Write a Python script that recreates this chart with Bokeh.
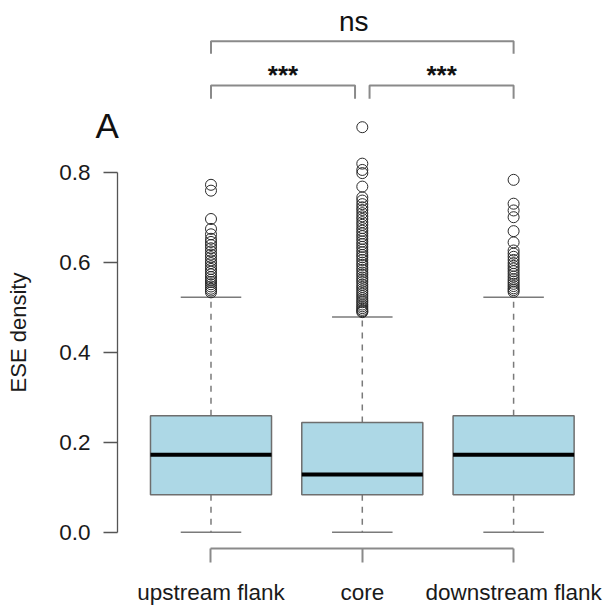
import math
from bokeh.plotting import figure
from bokeh.models import Range1d, FixedTicker, PrintfTickFormatter
from bokeh.core.properties import value
from bokeh.embed import file_html
from bokeh.resources import INLINE

# ---------------- data ----------------
categories = ["upstream flank", "core", "downstream flank"]
positions = [1, 2, 3]
lower_whisker = [0.0, 0.0, 0.0]
q1 = [0.083, 0.083, 0.083]
median = [0.172, 0.128, 0.172]
q3 = [0.259, 0.244, 0.259]
upper_whisker = [0.522, 0.478, 0.522]

outliers_upstream = [0.772, 0.759, 0.696, 0.674, 0.662, 0.652, 0.645, 0.638, 0.631,
                     0.624, 0.617, 0.611, 0.604, 0.598, 0.591, 0.585, 0.579, 0.573,
                     0.567, 0.561, 0.556, 0.551, 0.546, 0.541, 0.537, 0.533]
outliers_core = [0.900, 0.819, 0.805, 0.798, 0.768, 0.744, 0.737, 0.729, 0.722, 0.716,
                 0.709, 0.702, 0.696, 0.689, 0.683, 0.676, 0.670, 0.664, 0.658, 0.652,
                 0.646, 0.640, 0.634, 0.628, 0.622, 0.616, 0.611, 0.605, 0.599, 0.594,
                 0.588, 0.583, 0.577, 0.572, 0.566, 0.561, 0.556, 0.550, 0.545, 0.540,
                 0.535, 0.530, 0.525, 0.520, 0.515, 0.511, 0.506, 0.502, 0.498, 0.494,
                 0.491, 0.489]
outliers_downstream = [0.783, 0.730, 0.715, 0.700, 0.669, 0.644, 0.626, 0.619, 0.612,
                       0.605, 0.598, 0.592, 0.586, 0.580, 0.574, 0.568, 0.562, 0.557,
                       0.552, 0.547, 0.542, 0.538, 0.534]

y_ticks = [0.0, 0.2, 0.4, 0.6, 0.8]
y_label = "ESE density"
panel_letter = "A"
comparisons = [(1, 2, "***"), (2, 3, "***"), (1, 3, "ns")]

# ---------------- figure ----------------
FONT = "Liberation Sans"
X_LO, X_HI = -0.39127, 3.62723
Y_LO, Y_HI = -0.18067, 1.18156
AXIS_X = 0.38202     # where the y axis sits (data x)
AXIS_Y = -0.03622    # where the x axis sits (data y)

p = figure(width=608, height=613,
           x_range=Range1d(X_LO, X_HI), y_range=Range1d(Y_LO, Y_HI),
           output_backend="svg", toolbar_location=None,
           min_border=0, min_border_left=0, min_border_right=0,
           min_border_top=0, min_border_bottom=0)
p.outline_line_color = None
p.xgrid.visible = False
p.ygrid.visible = False
p.background_fill_color = "white"
p.border_fill_color = "white"

box_w = 0.8
cap_w = 0.4

# whiskers (dashed)
p.segment(x0=positions, x1=positions, y0=q3, y1=upper_whisker,
          line_color="#7a7a7a", line_width=1.5, line_dash="6 6")
p.segment(x0=positions, x1=positions, y0=q1, y1=lower_whisker,
          line_color="#7a7a7a", line_width=1.5, line_dash="6 6")
# caps
p.segment(x0=[x - cap_w / 2 for x in positions], x1=[x + cap_w / 2 for x in positions],
          y0=upper_whisker, y1=upper_whisker, line_color="#7a7a7a", line_width=1.5)
p.segment(x0=[x - cap_w / 2 for x in positions], x1=[x + cap_w / 2 for x in positions],
          y0=lower_whisker, y1=lower_whisker, line_color="#7a7a7a", line_width=1.5)
# boxes
p.vbar(x=positions, width=box_w, bottom=q1, top=q3,
       fill_color="#ADD8E6", line_color="#6e6e6e", line_width=1.5)
# medians
p.segment(x0=[x - box_w / 2 for x in positions], x1=[x + box_w / 2 for x in positions],
          y0=median, y1=median, line_color="black", line_width=4)

# outliers
ox, oy = [], []
for pos, vals in zip(positions, [outliers_upstream, outliers_core, outliers_downstream]):
    ox += [pos] * len(vals)
    oy += vals
p.scatter(x=ox, y=oy, marker="circle", size=11, fill_color=None,
          line_color="#2a2a2a", line_width=1)

# significance brackets
lvl_low = (0.9927, 0.9631)
lvl_high = (1.0911, 1.0631)
trim = 0.048
bx, by = [], []
tx, ty, tt = [], [], []
for a, b, lab in comparisons:
    if b - a == 1:
        xa = a + (trim if a == 2 else 0)
        xb = b - (trim if b == 2 else 0)
        top, bot = lvl_low
        bx.append([xa, xa, xb, xb]); by.append([bot, top, top, bot])
        tx.append((xa + xb) / 2); ty.append(1.017); tt.append(lab)
    else:
        top, bot = lvl_high
        bx.append([a, a, b, b]); by.append([bot, top, top, bot])
        tx.append((a + b) / 2 - 0.057); ty.append(1.135); tt.append(lab)
p.multi_line(xs=bx, ys=by, line_color="#8a8a8a", line_width=2)
p.text(x=tx[:2], y=ty[:2], text=tt[:2], text_font=value(FONT), text_font_size="26px",
       text_font_style="bold", text_align="center", text_baseline="alphabetic",
       text_color="#111111")
p.text(x=tx[2:], y=ty[2:], text=tt[2:], text_font=value(FONT), text_font_size="28px",
       text_align="center", text_baseline="alphabetic", text_color="#111111")

# y axis title and panel letter
p.text(x=[-0.270], y=[0.4438], text=[y_label], angle=math.pi / 2,
       text_font=value(FONT), text_font_size="22px", text_align="center",
       text_baseline="alphabetic", text_color="#1a1a1a")
p.text(x=[0.2366], y=[0.9038], text=[panel_letter], text_font=value(FONT),
       text_font_size="35px", text_align="left", text_baseline="alphabetic",
       text_color="#111111")

# axes
xa_ = p.xaxis[0]
xa_.fixed_location = AXIS_Y
xa_.ticker = FixedTicker(ticks=positions)
xa_.major_label_overrides = {pos: c for pos, c in zip(positions, categories)}
xa_.bounds = (1, 3)
xa_.axis_line_color = "#8a8a8a"
xa_.axis_line_width = 2
xa_.major_tick_line_color = "#8a8a8a"
xa_.major_tick_line_width = 2
xa_.major_tick_out = 14
xa_.major_tick_in = 0
xa_.minor_tick_line_color = None
xa_.major_label_standoff = 18
xa_.major_label_text_font = FONT
xa_.major_label_text_font_size = "22.5px"
xa_.major_label_text_color = "#1a1a1a"

ya_ = p.yaxis[0]
ya_.fixed_location = AXIS_X
ya_.ticker = FixedTicker(ticks=y_ticks)
ya_.formatter = PrintfTickFormatter(format="%.1f")
ya_.bounds = (0, 0.8)
ya_.axis_line_color = "#555555"
ya_.axis_line_width = 1.3
ya_.major_tick_line_color = "#555555"
ya_.major_tick_line_width = 1.3
ya_.major_tick_out = 14
ya_.major_tick_in = 0
ya_.minor_tick_line_color = None
ya_.major_label_standoff = 13
ya_.major_label_text_font = FONT
ya_.major_label_text_font_size = "22.5px"
ya_.major_label_text_color = "#1a1a1a"

open("out.html", "w").write(file_html(p, INLINE))
